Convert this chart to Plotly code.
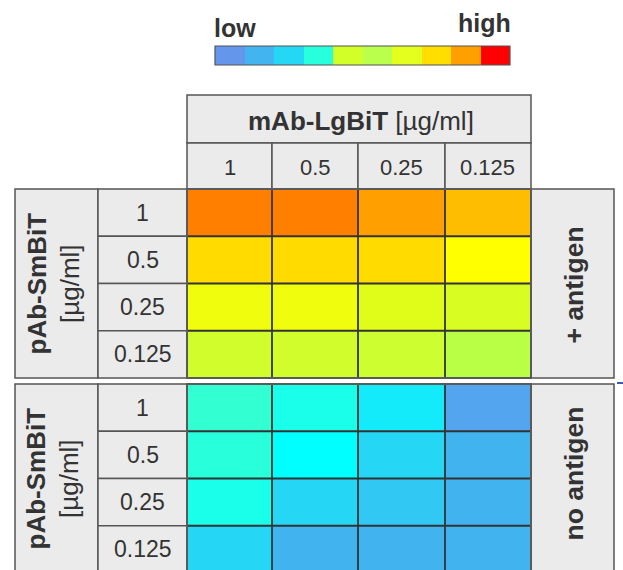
import plotly.graph_objects as go

# ---------------- data ----------------
col_labels = ["1", "0.5", "0.25", "0.125"]          # mAb-LgBiT [µg/ml]
row_labels = ["1", "0.5", "0.25", "0.125"]          # pAb-SmBiT [µg/ml]
plus_antigen = [
    [0.92, 0.92, 0.85, 0.80],
    [0.75, 0.75, 0.75, 0.65],
    [0.625, 0.625, 0.60, 0.58],
    [0.56, 0.56, 0.55, 0.50],
]
no_antigen = [
    [0.40, 0.35, 0.25, 0.05],
    [0.38, 0.30, 0.20, 0.10],
    [0.35, 0.20, 0.16, 0.10],
    [0.20, 0.10, 0.10, 0.10],
]
legend_colors = ["#6496EB", "#42B4F0", "#23D7F5", "#28FFDC", "#D2FF28",
                 "#B9FF4B", "#E4FF1E", "#FFDE00", "#FFA000", "#FF0000"]
block_labels = ["+ antigen", "no antigen"]

# ---------------- styling ----------------
W, H = 623, 570
FONT = "Liberation Sans, Arial, sans-serif"
TXT = "#333333"
BOX_FILL = "#EBEBEB"
BOX_LINE = "#555555"
GRID = "#333333"

colorscale = [
    [0.00, "rgb(100,149,237)"],
    [0.10, "rgb(65,180,240)"],
    [0.20, "rgb(38,215,245)"],
    [0.30, "rgb(0,255,255)"],
    [0.40, "rgb(50,255,210)"],
    [0.50, "rgb(185,255,70)"],
    [0.60, "rgb(224,252,25)"],
    [0.65, "rgb(255,255,0)"],
    [0.75, "rgb(255,219,0)"],
    [0.85, "rgb(255,160,0)"],
    [0.92, "rgb(255,128,0)"],
    [1.00, "rgb(255,0,0)"],
]


def X(px):
    return px / W


def Y(py):
    return 1 - py / H


# layout geometry (px)
gx0, gx1 = 187, 531
col_edges = [187, 272, 358, 445, 531]
top_y0, top_y1 = 189, 378
bot_y0 = 384
row_h = (top_y1 - top_y0) / 4
bot_rows = [bot_y0 + i * row_h for i in range(5)]
top_rows = [top_y0 + i * row_h for i in range(5)]

fig = go.Figure()

nr = len(row_labels)
nc = len(col_labels)

fig.add_trace(go.Heatmap(
    z=plus_antigen, x=list(range(nc)), y=list(range(nr)),
    colorscale=colorscale, zmin=0, zmax=1, showscale=False,
    xaxis="x", yaxis="y", hoverinfo="skip"))
fig.add_trace(go.Heatmap(
    z=no_antigen, x=list(range(nc)), y=list(range(nr)),
    colorscale=colorscale, zmin=0, zmax=1, showscale=False,
    xaxis="x2", yaxis="y2", hoverinfo="skip"))

n_leg = len(legend_colors)
leg_scale = []
for i, c in enumerate(legend_colors):
    leg_scale.append([i / n_leg, c])
    leg_scale.append([(i + 1) / n_leg, c])
fig.add_trace(go.Heatmap(
    z=[[i + 0.5 for i in range(n_leg)]], x=list(range(n_leg)), y=[0],
    colorscale=leg_scale, zmin=0, zmax=n_leg, showscale=False,
    xaxis="x3", yaxis="y3", hoverinfo="skip"))

bot_span = (H - bot_y0) / row_h
ax = dict(visible=False, showgrid=False, zeroline=False, fixedrange=True)
fig.update_layout(
    width=W, height=H, margin=dict(l=0, r=0, t=0, b=0, pad=0),
    paper_bgcolor="white", plot_bgcolor="white", showlegend=False,
    xaxis=dict(ax, domain=[X(gx0), X(gx1)], range=[-0.5, nc - 0.5]),
    yaxis=dict(ax, domain=[Y(top_y1), Y(top_y0)], range=[nr - 0.5, -0.5]),
    xaxis2=dict(ax, domain=[X(gx0), X(gx1)], range=[-0.5, nc - 0.5]),
    yaxis2=dict(ax, domain=[0, Y(bot_y0)], range=[-0.5 + bot_span, -0.5]),
    xaxis3=dict(ax, domain=[X(215), X(510)], range=[-0.5, n_leg - 0.5]),
    yaxis3=dict(ax, domain=[Y(65), Y(46)], range=[-0.5, 0.5]),
)

shapes = []


def box(x0, y0, x1, y1, fill=BOX_FILL, line=BOX_LINE, w=1.5):
    shapes.append(dict(type="rect", xref="paper", yref="paper",
                       x0=X(x0), x1=X(x1), y0=Y(y0), y1=Y(y1),
                       fillcolor=fill, line=dict(color=line, width=w),
                       layer="above" if fill == "rgba(0,0,0,0)" else "below"))


def line(x0, y0, x1, y1, color=GRID, w=1.8):
    shapes.append(dict(type="line", xref="paper", yref="paper",
                       x0=X(x0), x1=X(x1), y0=Y(y0), y1=Y(y1),
                       line=dict(color=color, width=w), layer="above"))


# header boxes
box(gx0, 95, gx1, 143)
for i in range(nc):
    box(col_edges[i], 143, col_edges[i + 1], 189)

# left / right label boxes, row label boxes
for rows in (top_rows, bot_rows):
    box(15, rows[0], 98, rows[-1])
    for i in range(nr):
        box(98, rows[i], gx0, rows[i + 1])
    box(gx1, rows[0], 614, rows[-1])

# grid lines inside heatmaps
for rows in (top_rows, bot_rows):
    for xe in col_edges[1:-1]:
        line(xe, rows[0], xe, rows[-1])
    for ye in rows[1:-1]:
        line(gx0, ye, gx1, ye)
    box(gx0, rows[0], gx1, rows[-1], fill="rgba(0,0,0,0)", line="#5a5a5a", w=2)

# legend border
box(215, 46, 510, 65, fill="rgba(0,0,0,0)", line="#555555", w=1.2)
# small blue mark at right edge
line(617, 383, 623, 383, color="#3A5BB0", w=2)

fig.update_layout(shapes=shapes)

ann = []


def text(x, y, s, size, angle=0):
    ann.append(dict(xref="paper", yref="paper", x=X(x), y=Y(y), text=s,
                    showarrow=False, textangle=angle, xanchor="center",
                    yanchor="middle",
                    font=dict(family=FONT, size=size, color=TXT)))


text(235, 28, "<b>low</b>", 25)
text(484, 23, "<b>high</b>", 25)
text(361, 121, "<b>mAb-LgBiT</b> [µg/ml]", 26)
for i, c in enumerate(col_labels):
    text((col_edges[i] + col_edges[i + 1]) / 2, 167, c, 22)
for rows, blabel in zip((top_rows, bot_rows), block_labels):
    for i, r in enumerate(row_labels):
        text((98 + gx0) / 2, (rows[i] + rows[i + 1]) / 2, r, 23)
    mid = (rows[0] + rows[-1]) / 2
    text(53, mid, "<b>pAb-SmBiT</b><br>[µg/ml]", 26, angle=-90)
    text(573, mid + (2 if blabel.startswith("+") else -5), "<b>" + blabel + "</b>", 26.5, angle=-90)

fig.update_layout(annotations=ann)

fig.write_html("out.html")
